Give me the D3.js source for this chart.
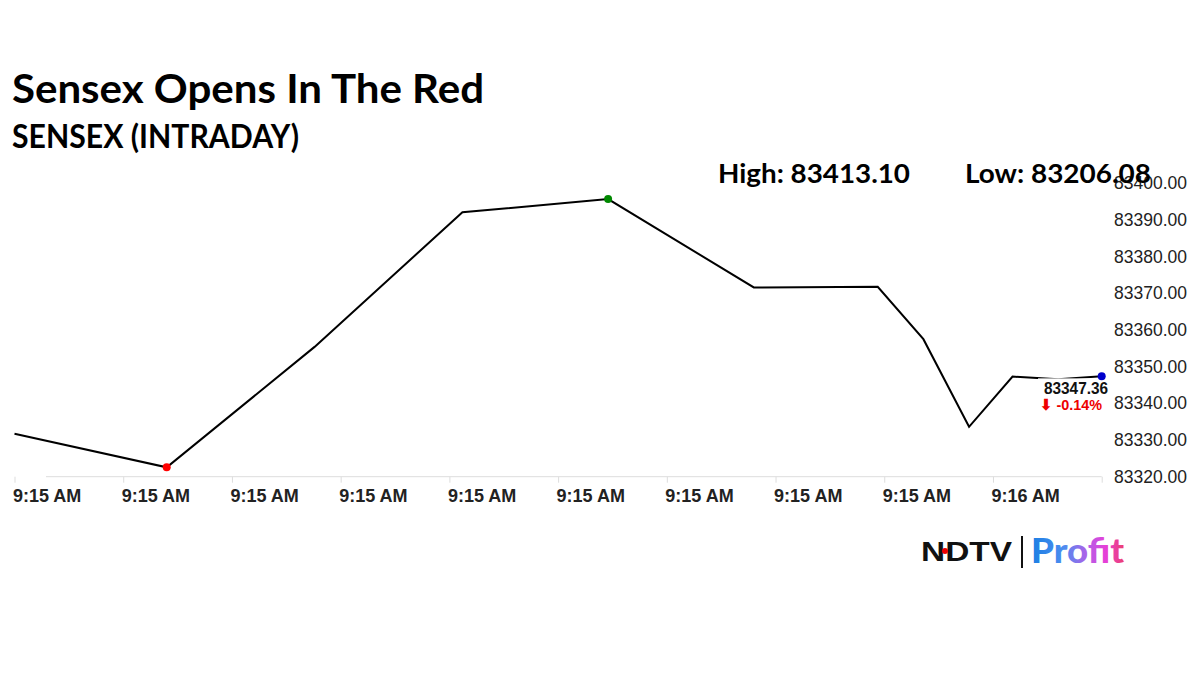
<!DOCTYPE html>
<html>
<head>
<meta charset="utf-8">
<script src="https://cdn.jsdelivr.net/npm/d3@7"></script>
<style>
  body { margin: 0; background: #fff; }
  svg { display: block; }
</style>
</head>
<body>
<svg width="1200" height="675"></svg>
<script>
// intraday ticks
var times = ['09:15:15.000', '09:15:22.000', '09:15:28.800', '09:15:35.600', '09:15:42.300', '09:15:49.000',
  '09:15:54.700', '09:15:56.800', '09:15:58.900', '09:16:00.900', '09:16:03.000', '09:16:05.000'];
var values = [83331.7, 83322.55, 83355.4, 83392.1, 83395.7, 83371.6,
  83371.8, 83357.5, 83333.6, 83347.3, 83346.6, 83347.36];
var yTicks = [83320, 83330, 83340, 83350, 83360, 83370, 83380, 83390, 83400];
var xTickLabels = ['9:15 AM', '9:15 AM', '9:15 AM', '9:15 AM', '9:15 AM', '9:15 AM',
  '9:15 AM', '9:15 AM', '9:15 AM', '9:16 AM', ''];
var title = 'Sensex Opens In The Red';
var subtitle = 'SENSEX (INTRADAY)';
var highText = 'High: 83413.10';
var lowText = 'Low: 83206.08';
var lastText = '83347.36';
var changeText = '\u2B07 -0.14%';

var svg = d3.select('svg');
var parse = d3.timeParse('%H:%M:%S.%L');
var data = times.map(function(t, i) {
  return { t: parse(t), v: values[i] };
});

var x = d3.scaleTime()
  .domain([parse('09:15:15.000'), parse('09:16:05.000')])
  .range([14.5, 1101.7]);
var y = d3.scaleLinear().domain([83320, 83400]).range([476.7, 183.3]);

// x axis
var xAxis = d3.axisBottom(x)
  .ticks(d3.timeSecond.every(5))
  .tickSize(6)
  .tickFormat(function(d, i) { return xTickLabels[i]; });
var gx = svg.append('g').attr('transform', 'translate(0,' + y(83320) + ')').call(xAxis);
gx.select('.domain').remove();
gx.selectAll('.tick line').attr('stroke', '#ddd');
gx.selectAll('.tick text')
  .attr('text-anchor', 'start')
  .attr('x', -2)
  .attr('y', 25)
  .attr('dy', 0)
  .attr('fill', '#222')
  .style('font', 'bold 18px "Liberation Sans", Arial, sans-serif');
svg.append('line')
  .attr('x1', 46).attr('x2', x.range()[1])
  .attr('y1', y(83320)).attr('y2', y(83320))
  .attr('stroke', '#ddd');

// y axis on the right
var yAxis = d3.axisRight(y).tickValues(yTicks).tickSize(0).tickFormat(d3.format('.2f'));
var gy = svg.append('g').attr('transform', 'translate(1114,0)').call(yAxis);
gy.select('.domain').remove();
gy.selectAll('.tick text')
  .attr('x', 0)
  .attr('fill', '#222')
  .style('font', '17.5px "Liberation Sans", Arial, sans-serif');

// line
var line = d3.line()
  .x(function(d) { return x(d.t); })
  .y(function(d) { return y(d.v); });
svg.append('path')
  .datum(data)
  .attr('fill', 'none')
  .attr('stroke', '#000')
  .attr('stroke-width', 2)
  .attr('d', line);

// low / high / last markers
var lowPt = data[d3.minIndex(values)];
var highPt = data[d3.maxIndex(values)];
var lastPt = data[data.length - 1];
svg.append('circle').attr('cx', x(lowPt.t)).attr('cy', y(lowPt.v)).attr('r', 4).attr('fill', '#f00');
svg.append('circle').attr('cx', x(highPt.t)).attr('cy', y(highPt.v)).attr('r', 4).attr('fill', '#080');

// label for last value (sits over the line)
svg.append('rect')
  .attr('x', 1038).attr('y', y(lastPt.v) + 2)
  .attr('width', 72).attr('height', 38)
  .attr('fill', '#fff');
svg.append('text')
  .attr('x', 1076).attr('y', 394)
  .attr('text-anchor', 'middle')
  .attr('fill', '#111')
  .style('font', 'bold 16px "Liberation Sans", Arial, sans-serif')
  .attr('textLength', 64).attr('lengthAdjust', 'spacingAndGlyphs')
  .text(lastText);
svg.append('text')
  .attr('x', 1071).attr('y', 410)
  .attr('text-anchor', 'middle')
  .attr('fill', '#e00')
  .style('font', 'bold 15px "Liberation Sans", Arial, sans-serif')
  .attr('textLength', 62).attr('lengthAdjust', 'spacingAndGlyphs')
  .text(changeText);
svg.append('circle').attr('cx', x(lastPt.t)).attr('cy', y(lastPt.v)).attr('r', 4).attr('fill', '#00c');

// titles
svg.append('text')
  .attr('x', 12).attr('y', 103)
  .attr('fill', '#000')
  .style('font', 'bold 41px Lato, "Open Sans", sans-serif')
  .attr('textLength', 472).attr('lengthAdjust', 'spacingAndGlyphs')
  .text(title);
svg.append('text')
  .attr('x', 12).attr('y', 148)
  .attr('fill', '#000')
  .style('font', 'bold 33px Lato, "Open Sans", sans-serif')
  .attr('textLength', 287).attr('lengthAdjust', 'spacingAndGlyphs')
  .text(subtitle);
svg.append('text')
  .attr('x', 718).attr('y', 183)
  .attr('fill', '#000')
  .style('font', 'bold 26px Lato, "Open Sans", sans-serif')
  .attr('textLength', 192).attr('lengthAdjust', 'spacingAndGlyphs')
  .text(highText);
svg.append('text')
  .attr('x', 965).attr('y', 183)
  .attr('fill', '#000')
  .style('font', 'bold 26px Lato, "Open Sans", sans-serif')
  .attr('textLength', 186).attr('lengthAdjust', 'spacingAndGlyphs')
  .text(lowText);

// NDTV | Profit mark
var defs = svg.append('defs');
var grad = defs.append('linearGradient').attr('id', 'profitGrad')
  .attr('x1', '0%').attr('x2', '100%').attr('y1', '0%').attr('y2', '0%');
grad.append('stop').attr('offset', '0%').attr('stop-color', '#1b7fe3');
grad.append('stop').attr('offset', '35%').attr('stop-color', '#4b8df0');
grad.append('stop').attr('offset', '60%').attr('stop-color', '#b060e8');
grad.append('stop').attr('offset', '80%').attr('stop-color', '#e640d8');
grad.append('stop').attr('offset', '100%').attr('stop-color', '#ec3f6e');

svg.append('text')
  .attr('x', 921).attr('y', 561)
  .attr('fill', '#111')
  .style('font', 'bold 27px "Liberation Sans", Arial, sans-serif')
  .attr('textLength', 91).attr('lengthAdjust', 'spacingAndGlyphs')
  .text('NDTV');
svg.append('circle').attr('cx', 945).attr('cy', 551).attr('r', 3).attr('fill', '#e00');
svg.append('line')
  .attr('x1', 1022).attr('x2', 1022).attr('y1', 536).attr('y2', 568)
  .attr('stroke', '#111').attr('stroke-width', 2);
svg.append('text')
  .attr('x', 1031).attr('y', 563)
  .attr('fill', 'url(#profitGrad)')
  .style('font', '900 34px Lato, "Open Sans", sans-serif')
  .attr('textLength', 93).attr('lengthAdjust', 'spacingAndGlyphs')
  .text('Profit');
</script>
</body>
</html>
